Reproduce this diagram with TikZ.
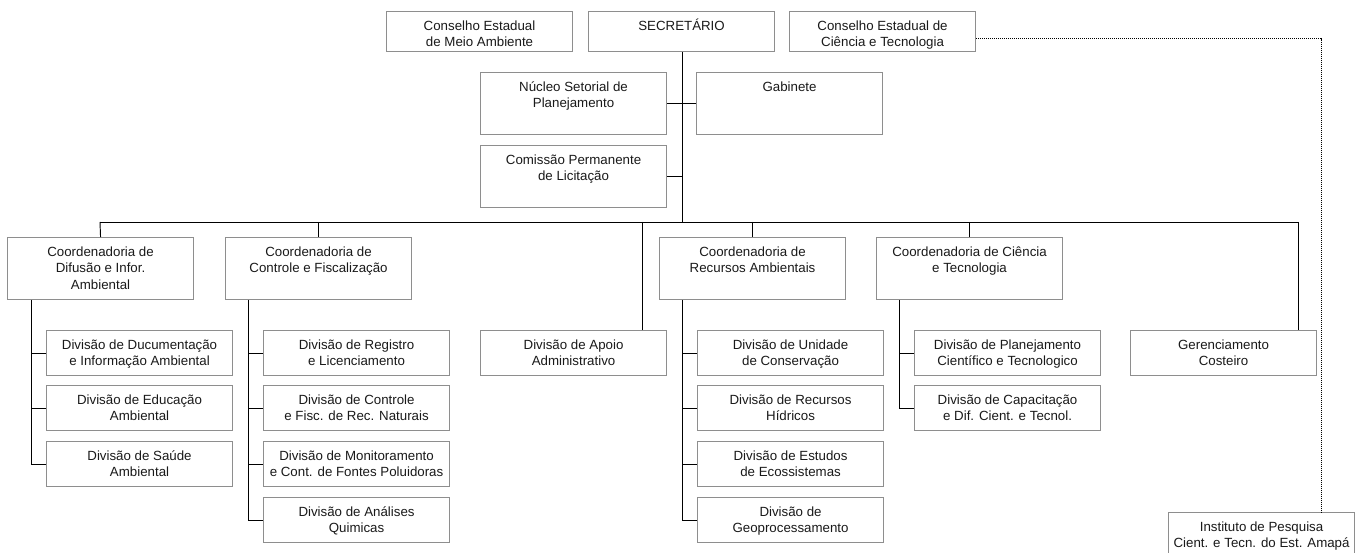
\documentclass[tikz,border=0pt]{standalone}
\usepackage{fontspec}
\setmainfont{Liberation Sans}
\definecolor{boxgray}{HTML}{8E8E8E}
\definecolor{inkcol}{HTML}{1A1A1A}
\begin{document}
\begin{tikzpicture}[x=1pt,y=-1pt,
  box/.style={draw=boxgray, line width=1.1pt, fill=white, inner sep=0pt,
    anchor=north west, minimum width=186pt},
  lbl/.style={anchor=north, inner sep=0pt, align=center, text=inkcol,
    font=\fontsize{13.3}{16.5}\selectfont},
  conn/.style={draw=black, line width=0.95pt},
  dotline/.style={draw=black, line width=1pt, dash pattern=on 1pt off 1pt}]

\useasboundingbox (0,0) rectangle (1358,553);

% box with its label set from the top edge
\newcommand\orgbox[5]{%
  \node[box, minimum height=#4pt] (#1) at (#2,#3) {};
  \node[lbl] (#1-t) at ([yshift=-7.3pt]#1.north) {\strut #5};
}

% top level
\orgbox{cma}{386}{11}{40}{Conselho Estadual\\de Meio Ambiente}
\orgbox{secr}{588}{11}{40}{SECRETÁRIO}
\orgbox{cct}{789}{11}{40}{Conselho Estadual de\\Ciência e Tecnologia}

% staff units
\orgbox{nucleo}{480}{72}{62}{Núcleo Setorial de\\Planejamento}
\orgbox{gab}{696}{72}{62}{Gabinete}
\orgbox{comis}{480}{145}{62}{Comissão Permanente\\de Licitação}

% coordinations
\orgbox{difusao}{7}{237}{62}{Coordenadoria de\\Difusão e Infor.\\Ambiental}
\orgbox{controle}{225}{237}{62}{Coordenadoria de\\Controle e Fiscalização}
\orgbox{recursos}{659}{237}{62}{Coordenadoria de\\Recursos Ambientais}
\orgbox{ciencia}{876}{237}{62}{Coordenadoria de Ciência\\e Tecnologia}

% divisions
\orgbox{ddoc}{46}{330}{45}{Divisão de Ducumentação\\e Informação Ambiental}
\orgbox{dedu}{46}{385}{45}{Divisão de Educação\\Ambiental}
\orgbox{dsau}{46}{441}{45}{Divisão de Saúde\\Ambiental}

\orgbox{creg}{263}{330}{45}{Divisão de Registro\\e Licenciamento}
\orgbox{cfis}{263}{385}{45}{Divisão de Controle\\e Fisc. de Rec. Naturais}
\orgbox{cmon}{263}{441}{45}{Divisão de Monitoramento\\e Cont. de Fontes Poluidoras}
\orgbox{cana}{263}{497}{45}{Divisão de Análises\\Quimicas}

\orgbox{apoio}{480}{330}{45}{Divisão de Apoio\\Administrativo}

\orgbox{runi}{697}{330}{45}{Divisão de Unidade\\de Conservação}
\orgbox{rhid}{697}{385}{45}{Divisão de Recursos\\Hídricos}
\orgbox{reco}{697}{441}{45}{Divisão de Estudos\\de Ecossistemas}
\orgbox{rgeo}{697}{497}{45}{Divisão de\\Geoprocessamento}

\orgbox{cpla}{914}{330}{45}{Divisão de Planejamento\\Científico e Tecnologico}
\orgbox{ccap}{914}{385}{45}{Divisão de Capacitação\\e Dif. Cient. e Tecnol.}

\orgbox{geren}{1130}{330}{45}{Gerenciamento\\Costeiro}

\orgbox{inst}{1168}{512}{45}{Instituto de Pesquisa\\Cient. e Tecn. do Est. Amapá}

% trunk from the secretary down to the bus
\coordinate (busL) at (100,222);
\coordinate (busR) at (1298,222);
\coordinate (trunk) at (682,222);
\draw[conn] (trunk |- secr.south) -- (trunk);
\draw[conn] (nucleo.east) -- (gab.west);
\draw[conn] (comis.east) -- (comis.east -| trunk);

% horizontal bus and drops
\draw[conn] (busL) -- (busR);
\draw[conn] (busL) -- (difusao.north);
\draw[conn] (busL -| controle.north) -- (controle.north);
\draw[conn] (busL -| recursos.north) -- (recursos.north);
\draw[conn] (busL -| ciencia.north) -- (ciencia.north);
\coordinate (apdrop) at (642,222);
\draw[conn] (apdrop) -- (apdrop |- apoio.north);
\draw[conn] (busR) -- (busR |- geren.north);

% spines to the divisions
\coordinate (sp1) at ([xshift=24pt]difusao.south west);
\draw[conn] (sp1) |- (ddoc.west);
\draw[conn] (sp1) |- (dedu.west);
\draw[conn] (sp1) |- (dsau.west);

\coordinate (sp2) at ([xshift=23pt]controle.south west);
\draw[conn] (sp2) |- (creg.west);
\draw[conn] (sp2) |- (cfis.west);
\draw[conn] (sp2) |- (cmon.west);
\draw[conn] (sp2) |- (cana.west);

\coordinate (sp3) at ([xshift=23pt]recursos.south west);
\draw[conn] (sp3) |- (runi.west);
\draw[conn] (sp3) |- (rhid.west);
\draw[conn] (sp3) |- (reco.west);
\draw[conn] (sp3) |- (rgeo.west);

\coordinate (sp4) at ([xshift=23pt]ciencia.south west);
\draw[conn] (sp4) |- (cpla.west);
\draw[conn] (sp4) |- (ccap.west);

% dotted link to the research institute
\draw[dotline] ([yshift=-7pt]cct.east) -| ([xshift=59.5pt]inst.north);

\end{tikzpicture}
\end{document}
